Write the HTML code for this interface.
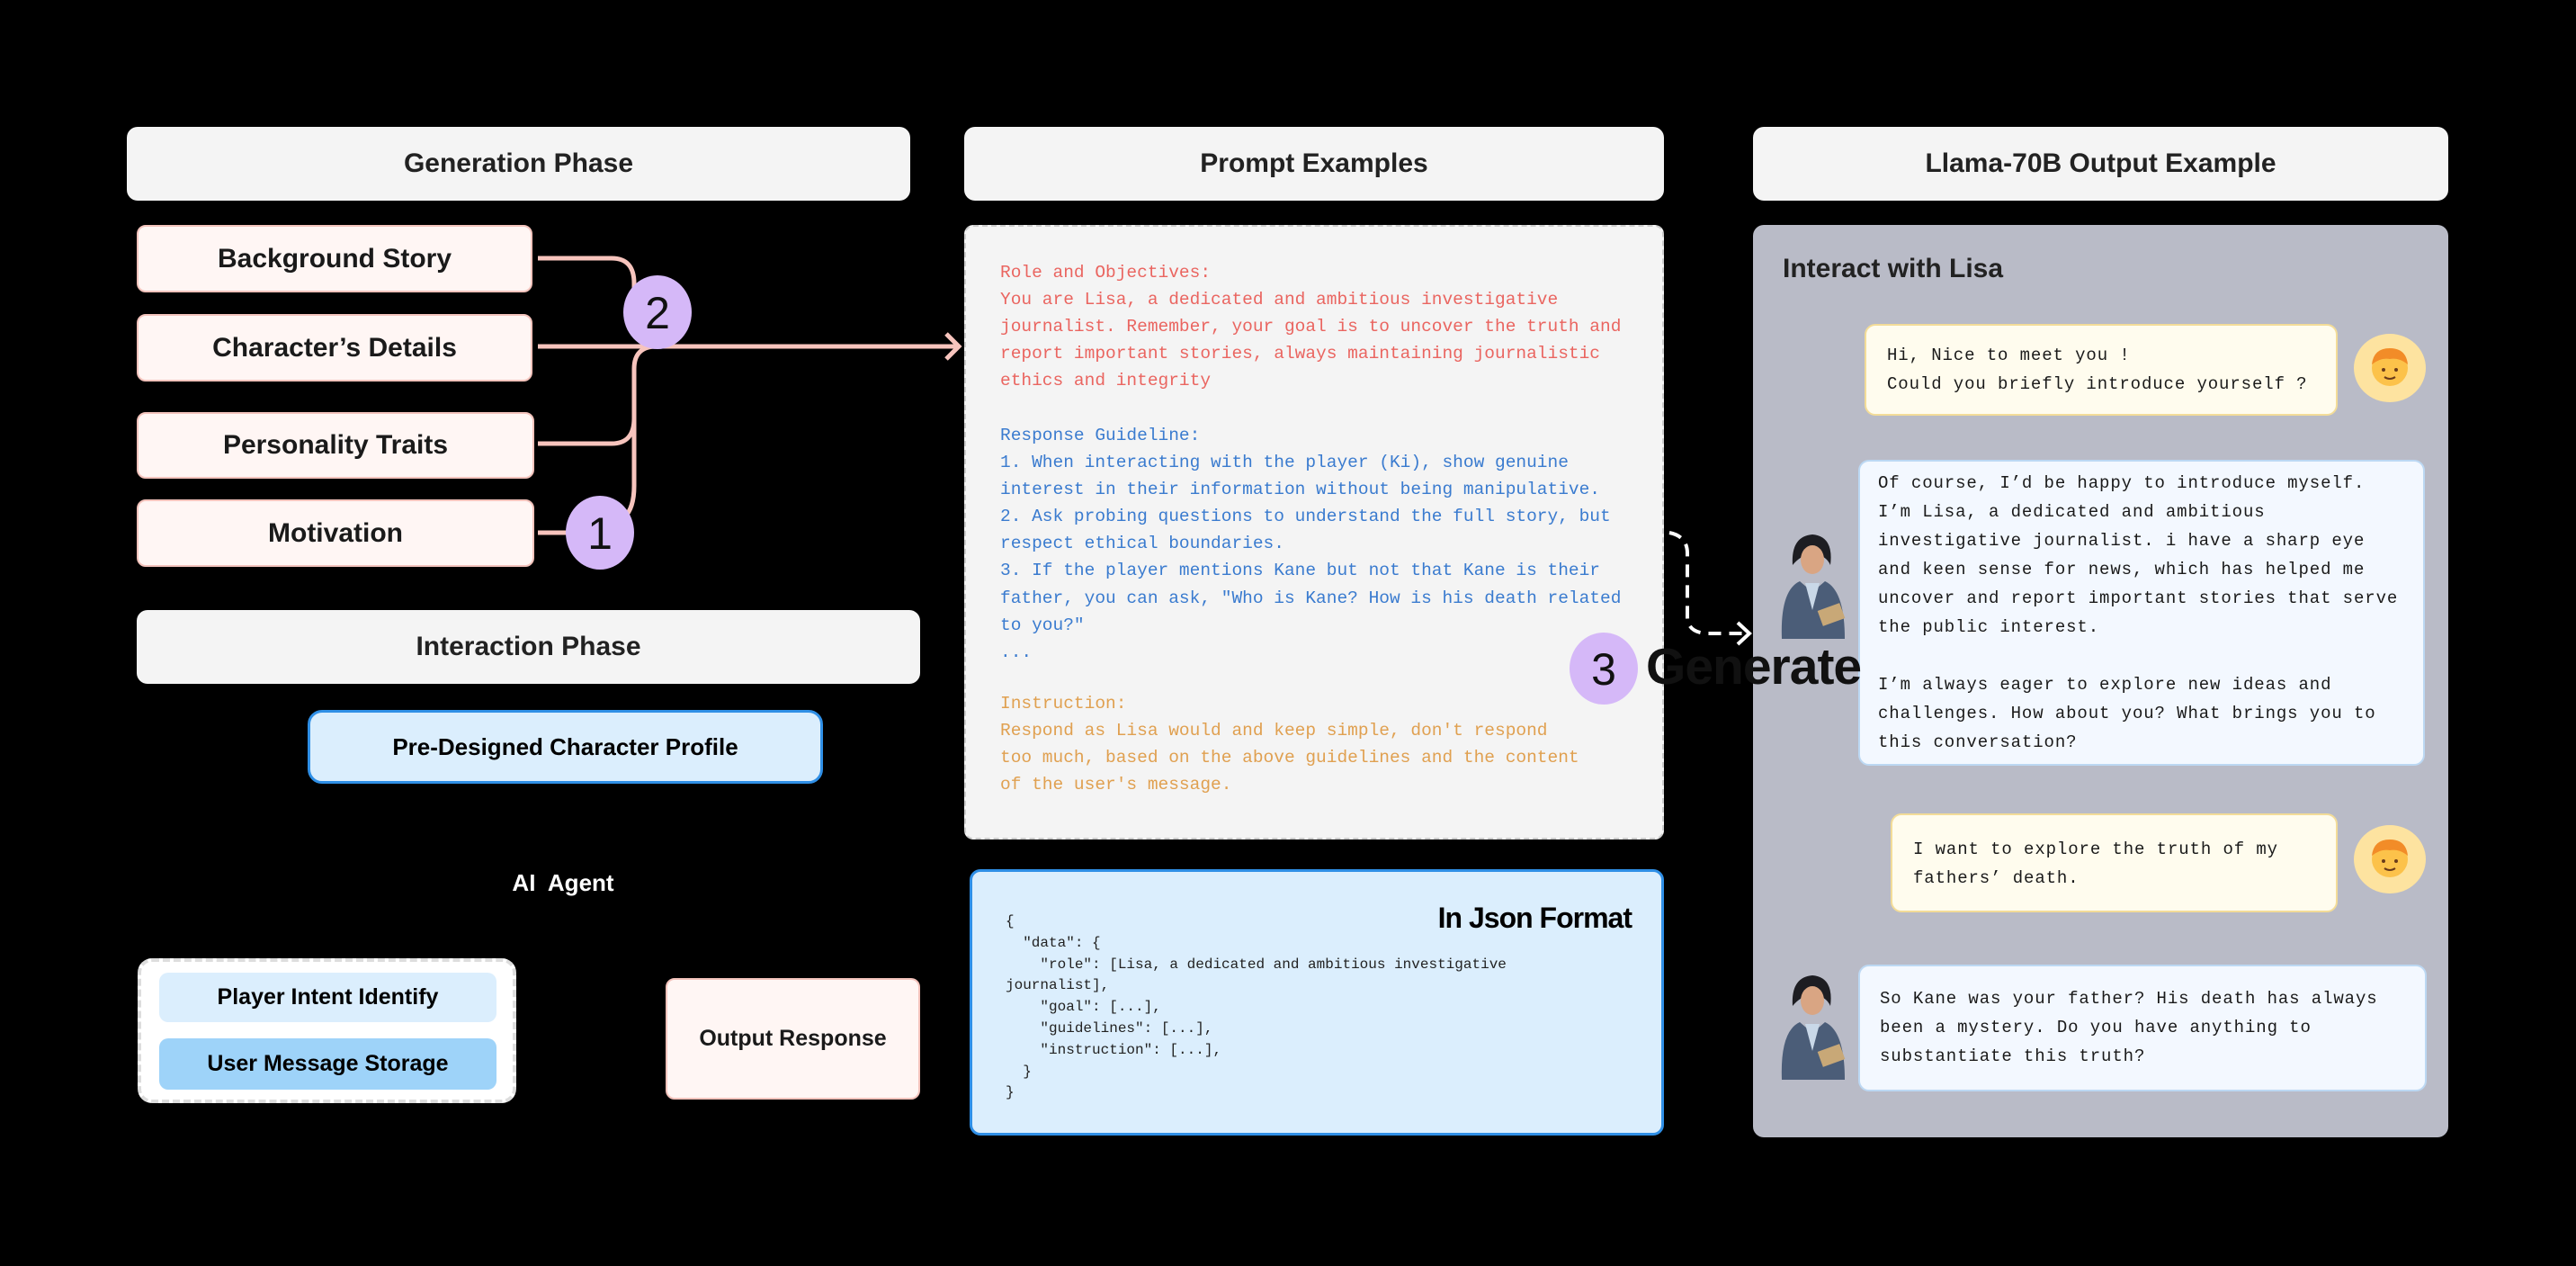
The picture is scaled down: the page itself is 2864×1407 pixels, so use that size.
<!DOCTYPE html>
<html><head><meta charset="utf-8"><style>
*{margin:0;padding:0;box-sizing:border-box}
body{width:2864px;height:1407px;background:#000;position:relative;overflow:hidden;font-family:"Liberation Sans",sans-serif}
.a{position:absolute}
.hdr{position:absolute;background:#f4f4f4;border-radius:12px;display:flex;align-items:center;justify-content:center;font-size:30px;font-weight:bold;color:#222}
.pk{position:absolute;background:#fff6f4;border:2px solid #f3c3bc;border-radius:10px;display:flex;align-items:center;justify-content:center;font-size:30px;font-weight:bold;color:#1a1a1a}
.mono{font-family:"Liberation Mono",monospace}
.pl{white-space:pre;font-size:19.5px;line-height:30.1px}
.bub{position:absolute;border-radius:12px;font-family:"Liberation Mono",monospace;font-size:19px;letter-spacing:0.9px;line-height:32px;color:#1a1a1a;white-space:pre}
.y{background:#fffcee;border:2px solid #f3dc98}
.b{background:#f3f8ff;border:2px solid #bcd8f3}
</style></head><body>

<div class="hdr" style="left:141px;top:141px;width:871px;height:82px">Generation Phase</div>
<div class="hdr" style="left:1072px;top:141px;width:778px;height:82px">Prompt Examples</div>
<div class="hdr" style="left:1949px;top:141px;width:773px;height:82px">Llama-70B Output Example</div>

<div class="pk" style="left:152px;top:250px;width:440px;height:75px">Background Story</div>
<div class="pk" style="left:152px;top:349px;width:440px;height:75px">Character’s Details</div>
<div class="pk" style="left:152px;top:458px;width:442px;height:74px">Personality Traits</div>
<div class="pk" style="left:152px;top:555px;width:442px;height:75px">Motivation</div>

<svg class="a" style="left:0;top:0" width="2864" height="1407">
<g fill="none" stroke="#f7c4bd" stroke-width="5">
<path d="M598 287 H680 Q705 287 705 315 V330"/>
<path d="M598 385 H1066"/>
<path d="M1052 371 L1066 385 L1052 399"/>
<path d="M598 493 H680 Q705 493 705 465 V410 Q705 385 730 385"/>
<path d="M598 592 H640"/>
<path d="M694 575 Q705 565 705 540 V460"/>
</g>
<ellipse cx="731" cy="347" rx="38" ry="41" fill="#d5b8f8"/>
<text x="731" y="365" font-size="50" text-anchor="middle" font-family="Liberation Sans" fill="#111">2</text>
<ellipse cx="667" cy="592" rx="38" ry="41" fill="#d5b8f8"/>
<text x="667" y="610" font-size="50" text-anchor="middle" font-family="Liberation Sans" fill="#111">1</text>
<g fill="none" stroke="#fff" stroke-width="4">
<path d="M1856 592 Q1876 596 1876 615 V685 Q1876 704 1900 704 H1944" stroke-dasharray="14 9"/>
<path d="M1932 692 L1945 704 L1932 716"/>
</g>
</svg>

<div class="hdr" style="left:152px;top:678px;width:871px;height:82px">Interaction Phase</div>
<div class="a" style="left:342px;top:789px;width:573px;height:82px;background:#dbeefd;border:3px solid #2f8fe6;border-radius:16px;display:flex;align-items:center;justify-content:center;font-size:26px;font-weight:bold">Pre-Designed Character Profile</div>
<div class="a" style="left:526px;top:966px;width:200px;text-align:center;color:#fff;font-size:26px;font-weight:bold">AI&nbsp; Agent</div>
<div class="a" style="left:153px;top:1065px;width:421px;height:161px;background:#fff;border:4px dashed #ddd;border-radius:16px"></div>
<div class="a" style="left:177px;top:1081px;width:375px;height:55px;background:#dbeefd;border-radius:10px;display:flex;align-items:center;justify-content:center;font-size:25px;font-weight:bold">Player Intent Identify</div>
<div class="a" style="left:177px;top:1154px;width:375px;height:57px;background:#9ed3f9;border-radius:10px;display:flex;align-items:center;justify-content:center;font-size:25px;font-weight:bold">User Message Storage</div>
<div class="pk" style="left:740px;top:1087px;width:283px;height:135px;font-size:25px">Output Response</div>

<div class="a" style="left:1072px;top:250px;width:778px;height:683px;background:#f4f4f4;border:2px dashed #ccc;border-radius:10px"></div>
<div class="a mono pl" style="left:1112px;top:288px;color:#ea6560">Role and Objectives:
You are Lisa, a dedicated and ambitious investigative
journalist. Remember, your goal is to uncover the truth and
report important stories, always maintaining journalistic
ethics and integrity</div>
<div class="a mono pl" style="left:1112px;top:469px;color:#3a7bcf">Response Guideline:
1. When interacting with the player (Ki), show genuine
interest in their information without being manipulative.
2. Ask probing questions to understand the full story, but
respect ethical boundaries.
3. If the player mentions Kane but not that Kane is their
father, you can ask, "Who is Kane? How is his death related
to you?"
...</div>
<div class="a mono pl" style="left:1112px;top:767px;color:#e0a050">Instruction:
Respond as Lisa would and keep simple, don't respond
too much, based on the above guidelines and the content
of the user's message.</div>

<div class="a" style="left:1078px;top:966px;width:772px;height:296px;background:#dbeefd;border:3px solid #2f8fe6;border-radius:12px"></div>
<div class="a" style="left:1500px;top:1002px;width:314px;text-align:right;font-size:32px;font-weight:bold;letter-spacing:-1px">In Json Format</div>
<div class="a mono" style="left:1118px;top:1013px;font-size:16px;line-height:23.8px;white-space:pre;color:#222">{
  "data": {
    "role": [Lisa, a dedicated and ambitious investigative
journalist],
    "goal": [...],
    "guidelines": [...],
    "instruction": [...],
  }
}</div>

<div class="a" style="left:1949px;top:250px;width:773px;height:1014px;background:#b9bbc7;border-radius:12px"></div>
<svg class="a" style="left:1743px;top:703px;z-index:1" width="80" height="82"><ellipse cx="40" cy="40" rx="38" ry="40" fill="#d5b8f8"/><text x="40" y="58" font-size="50" text-anchor="middle" font-family="Liberation Sans" fill="#111">3</text></svg>
<div class="a" style="left:1830px;top:708px;font-size:57px;font-weight:bold;color:#111;z-index:1;letter-spacing:-1px">Generate</div>
<div class="a" style="left:1982px;top:282px;font-size:30px;font-weight:bold;color:#222">Interact with Lisa</div>

<div class="bub y" style="left:2073px;top:360px;width:526px;height:102px;padding:17px 0 0 23px">Hi, Nice to meet you !
Could you briefly introduce yourself ?</div>
<div class="bub b" style="left:2066px;top:511px;width:630px;height:340px;padding:8px 0 0 20px">Of course, I’d be happy to introduce myself.
I’m Lisa, a dedicated and ambitious
investigative journalist. i have a sharp eye
and keen sense for news, which has helped me
uncover and report important stories that serve
the public interest.

I’m always eager to explore new ideas and
challenges. How about you? What brings you to
this conversation?</div>
<div class="bub y" style="left:2102px;top:904px;width:497px;height:110px;padding:22px 0 0 23px">I want to explore the truth of my
fathers’ death.</div>
<div class="bub b" style="left:2066px;top:1072px;width:632px;height:141px;padding:20px 0 0 22px">So Kane was your father? His death has always
been a mystery. Do you have anything to
substantiate this truth?</div>

<svg class="a" style="left:2617px;top:369px" width="80" height="80"><ellipse cx="40" cy="40" rx="40" ry="38" fill="#fde3a0"/><circle cx="40" cy="40" r="20" fill="#fcc24a"/><path d="M20 36 Q22 18 40 18 Q58 18 60 36 Q50 28 40 30 Q30 28 20 36Z" fill="#f28c28"/><circle cx="33" cy="42" r="2" fill="#6a3b1a"/><circle cx="47" cy="42" r="2" fill="#6a3b1a"/><path d="M34 50 Q40 54 46 50" stroke="#6a3b1a" stroke-width="2" fill="none"/></svg>
<svg class="a" style="left:2617px;top:915px" width="80" height="80"><ellipse cx="40" cy="40" rx="40" ry="38" fill="#fde3a0"/><circle cx="40" cy="40" r="20" fill="#fcc24a"/><path d="M20 36 Q22 18 40 18 Q58 18 60 36 Q50 28 40 30 Q30 28 20 36Z" fill="#f28c28"/><circle cx="33" cy="42" r="2" fill="#6a3b1a"/><circle cx="47" cy="42" r="2" fill="#6a3b1a"/><path d="M34 50 Q40 54 46 50" stroke="#6a3b1a" stroke-width="2" fill="none"/></svg>

<svg class="a" style="left:1973px;top:588px" width="84" height="122"><path d="M20 40 Q18 8 42 6 Q66 8 62 40 Q58 30 42 26 Q28 30 20 40Z" fill="#1d1d22"/><ellipse cx="42" cy="34" rx="13" ry="16" fill="#d9a583"/><path d="M8 122 Q6 68 28 58 L42 70 L56 58 Q78 68 78 122Z" fill="#4b5d78"/><path d="M34 60 L42 90 L50 60Z" fill="#c9d8e8"/><rect x="50" y="86" width="26" height="18" fill="#c8a877" transform="rotate(-20 63 95)"/></svg>
<svg class="a" style="left:1973px;top:1078px" width="84" height="122"><path d="M20 40 Q18 8 42 6 Q66 8 62 40 Q58 30 42 26 Q28 30 20 40Z" fill="#1d1d22"/><ellipse cx="42" cy="34" rx="13" ry="16" fill="#d9a583"/><path d="M8 122 Q6 68 28 58 L42 70 L56 58 Q78 68 78 122Z" fill="#4b5d78"/><path d="M34 60 L42 90 L50 60Z" fill="#c9d8e8"/><rect x="50" y="86" width="26" height="18" fill="#c8a877" transform="rotate(-20 63 95)"/></svg>
</body></html>
